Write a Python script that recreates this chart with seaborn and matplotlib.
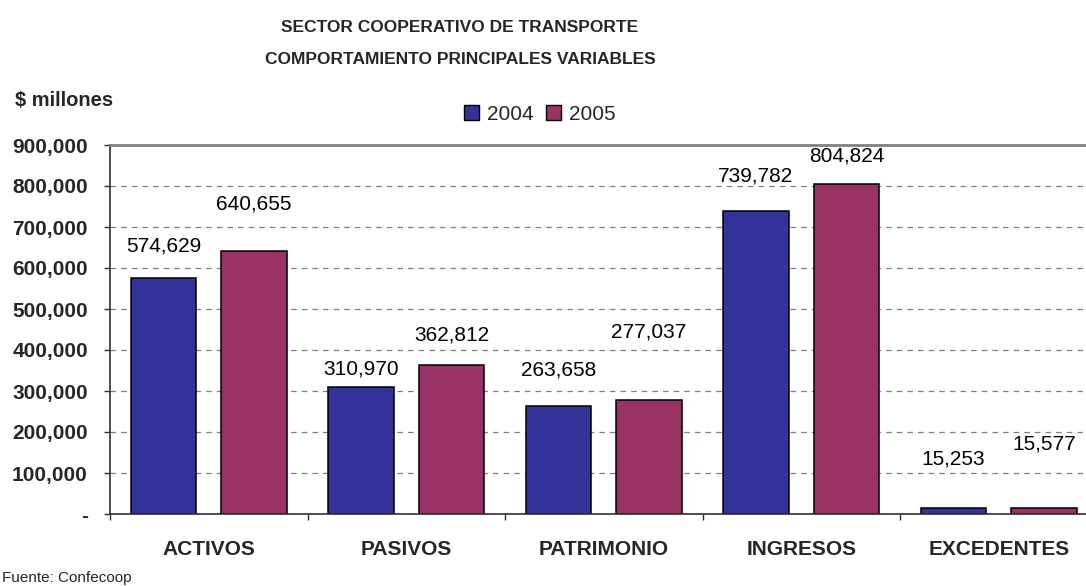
import matplotlib
matplotlib.use("Agg")
import matplotlib.pyplot as plt
import seaborn as sns
import pandas as pd
from matplotlib.ticker import FuncFormatter, FixedLocator

categories = ["ACTIVOS", "PASIVOS", "PATRIMONIO", "INGRESOS", "EXCEDENTES"]
years = ["2004", "2005"]
v2004 = [574629, 310970, 263658, 739782, 15253]
v2005 = [640655, 362812, 277037, 804824, 15577]

# label lift above each bar top, in pixels (labels were hand placed in the original)
lift_2004 = [32, 18, 36, 35, 49]
lift_2005 = [47, 30, 68, 28, 64]

colors = ["#333399", "#993366"]

df = pd.DataFrame({
    "variable": categories * 2,
    "year": [years[0]] * len(categories) + [years[1]] * len(categories),
    "valor": v2004 + v2005,
})

sns.set_theme(style="white")
plt.rcParams["font.family"] = ["Liberation Sans", "DejaVu Sans"]

fig = plt.figure(figsize=(10.86, 5.86), dpi=100)
ax = fig.add_axes([110 / 1086, 72 / 586, 987.5 / 1086, 369 / 586])

sns.barplot(data=df, x="variable", y="valor", hue="year", palette=colors,
            width=0.92, gap=0.28, edgecolor="black", linewidth=1.1,
            saturation=1, ax=ax)

ax.set_xlim(-0.5, len(categories) - 0.5)
ax.set_ylim(0, 900000)
ax.set_yticks(range(0, 900001, 100000))
ax.yaxis.set_major_formatter(FuncFormatter(lambda v, p: "-" if v == 0 else f"{v:,.0f}"))
ax.grid(axis="y", color="#808080", linestyle=(0, (4.5, 4)), linewidth=0.9)
ax.set_axisbelow(True)

for s in ["left", "bottom"]:
    ax.spines[s].set_color("#303030")
    ax.spines[s].set_linewidth(1.2)
ax.spines["top"].set_color("#808080")
ax.spines["top"].set_linewidth(2)
ax.spines["right"].set_visible(False)

ax.tick_params(axis="y", which="major", direction="out", length=4, width=1,
               color="#303030", left=True, pad=12, labelsize=15)
for t in ax.get_yticklabels():
    t.set_fontweight("bold")

ax.xaxis.set_minor_locator(FixedLocator([i - 0.5 for i in range(len(categories) + 1)]))
ax.tick_params(axis="x", which="minor", direction="out", length=4, width=1,
               color="#303030", bottom=True)
ax.tick_params(axis="x", which="major", length=0, pad=19, labelsize=15)
for t in ax.get_xticklabels():
    t.set_fontweight("bold")
ax.set_xlabel("")
ax.set_ylabel("")

for cont, lifts in zip(ax.containers, [lift_2004, lift_2005]):
    for bar, lift in zip(cont, lifts):
        h = bar.get_height()
        ax.annotate(f"{h:,.0f}", (bar.get_x() + bar.get_width() / 2, h),
                    xytext=(0, lift * 0.72), textcoords="offset points",
                    ha="center", va="center", fontsize=15, color="black")

ax.get_legend().remove()
handles = [plt.Rectangle((0, 0), 1, 1, facecolor=c, edgecolor="black", linewidth=1)
           for c in colors]
fig.legend(handles, years, loc="center", bbox_to_anchor=(540 / 1086, 1 - 114 / 586),
           ncol=2, frameon=False, fontsize=15, handlelength=0.7, handleheight=0.7,
           handletextpad=0.4, columnspacing=0.6)

fig.text(460 / 1086, 1 - 28 / 586, "SECTOR COOPERATIVO DE TRANSPORTE",
         ha="center", va="center", fontsize=12.5, fontweight="bold")
fig.text(460 / 1086, 1 - 60 / 586, "COMPORTAMIENTO PRINCIPALES VARIABLES",
         ha="center", va="center", fontsize=12.5, fontweight="bold")
fig.text(15 / 1086, 1 - 101 / 586, "$ millones", ha="left", va="center",
         fontsize=14.5, fontweight="bold")
fig.text(2 / 1086, 1 - 578 / 586, "Fuente: Confecoop", ha="left", va="center",
         fontsize=11)

fig.savefig("out.png", dpi=100)
